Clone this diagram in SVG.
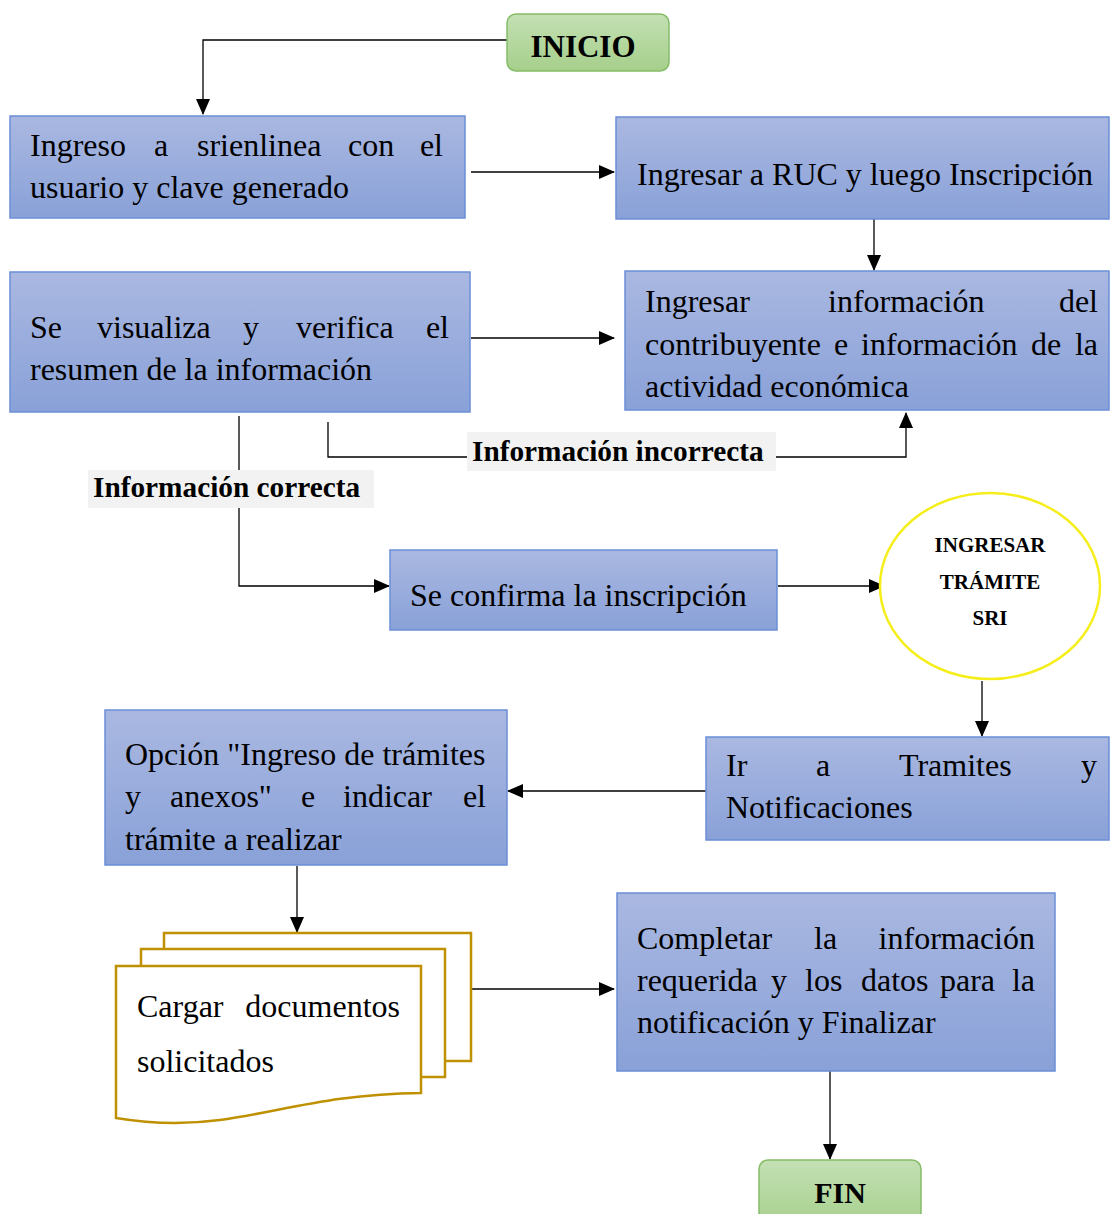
<svg xmlns="http://www.w3.org/2000/svg" width="1110" height="1214" viewBox="0 0 1110 1214">
<defs>
<linearGradient id="gb" x1="0" y1="0" x2="0" y2="1"><stop offset="0" stop-color="#aab8e1"/><stop offset="1" stop-color="#89a1d8"/></linearGradient>
<linearGradient id="gg" x1="0" y1="0" x2="0" y2="1"><stop offset="0" stop-color="#c3e0b3"/><stop offset="1" stop-color="#a6cf8b"/></linearGradient>
<marker id="ah" markerUnits="userSpaceOnUse" markerWidth="16" markerHeight="14" refX="15" refY="7" orient="auto"><path d="M0,0 L16,7 L0,14 Z" fill="#000"/></marker>
<style>
.box{fill:url(#gb);stroke:#6b8fd6;stroke-width:1.5}
.term{fill:url(#gg);stroke:#86bc68;stroke-width:1.5}
.t{font-family:"Liberation Serif","Times New Roman",serif;font-size:32px;fill:#000}
.b{font-family:"Liberation Serif","Times New Roman",serif;font-weight:bold;fill:#000}
.c{fill:none;stroke:#000;stroke-width:1.3}
.doc{fill:#fff;stroke:#bf9000;stroke-width:2.5}
</style>
</defs>
<g id="connectors">
<path class="c" d="M507,40 H203 V114" marker-end="url(#ah)"/>
<path class="c" d="M471,172 H614" marker-end="url(#ah)"/>
<path class="c" d="M874,219 V270" marker-end="url(#ah)"/>
<path class="c" d="M471,338 H614" marker-end="url(#ah)"/>
<path class="c" d="M328,422 V457 H906 V413" marker-end="url(#ah)"/>
<path class="c" d="M239,416 V586 H389" marker-end="url(#ah)"/>
<path class="c" d="M778,586 H884" marker-end="url(#ah)"/>
<path class="c" d="M982,681 V736" marker-end="url(#ah)"/>
<path class="c" d="M706,791 H508" marker-end="url(#ah)"/>
<path class="c" d="M297,866 V932" marker-end="url(#ah)"/>
<path class="c" d="M471,989 H614" marker-end="url(#ah)"/>
<path class="c" d="M830,1071 V1159" marker-end="url(#ah)"/>
<rect x="467" y="432" width="309" height="39" fill="#f2f2f2"/>
<text class="b" font-size="29.3" x="472" y="461">Información incorrecta</text>
<rect x="88" y="470" width="286" height="38" fill="#f2f2f2"/>
<text class="b" font-size="29.3" x="93" y="497">Información correcta</text>
</g>
<g id="inicio">
<rect class="term" x="507" y="14" width="162" height="57" rx="9"/>
<text class="b" font-size="31" x="583" y="57" text-anchor="middle">INICIO</text>
</g>
<g id="ingreso">
<rect class="box" x="10" y="116" width="455" height="102"/>
<text class="t" y="156"><tspan x="30">Ingreso</tspan><tspan x="154">a</tspan><tspan x="197">srienlinea</tspan><tspan x="348">con</tspan><tspan x="443" text-anchor="end">el</tspan></text>
<text class="t" x="30" y="198">usuario y clave generado</text>
</g>
<g id="ruc">
<rect class="box" x="616" y="117" width="493" height="102"/>
<text class="t" x="637" y="185">Ingresar a RUC y luego Inscripción</text>
</g>
<g id="info">
<rect class="box" x="625" y="271" width="484" height="139"/>
<text class="t" y="312"><tspan x="645">Ingresar</tspan><tspan x="828">información</tspan><tspan x="1098" text-anchor="end">del</tspan></text>
<text class="t" y="355"><tspan x="645">contribuyente</tspan><tspan x="834">e</tspan><tspan x="861">información</tspan><tspan x="1031">de</tspan><tspan x="1098" text-anchor="end">la</tspan></text>
<text class="t" x="645" y="397">actividad económica</text>
</g>
<g id="verifica">
<rect class="box" x="10" y="272" width="460" height="140"/>
<text class="t" y="338"><tspan x="30">Se</tspan><tspan x="97">visualiza</tspan><tspan x="243">y</tspan><tspan x="296">verifica</tspan><tspan x="449" text-anchor="end">el</tspan></text>
<text class="t" x="30" y="380">resumen de la información</text>
</g>
<g id="confirma">
<rect class="box" x="390" y="550" width="387" height="80"/>
<text class="t" x="410" y="606">Se confirma la inscripción</text>
</g>
<g id="tramite">
<ellipse cx="990" cy="586" rx="110" ry="93" fill="#fff" stroke="#f5ee1a" stroke-width="2.5"/>
<text class="b" font-size="21" text-anchor="middle"><tspan x="990" y="552">INGRESAR</tspan><tspan x="990" y="589">TRÁMITE</tspan><tspan x="990" y="625">SRI</tspan></text>
</g>
<g id="notificaciones">
<rect class="box" x="706" y="737" width="403" height="103"/>
<text class="t" y="776"><tspan x="726">Ir</tspan><tspan x="816">a</tspan><tspan x="899">Tramites</tspan><tspan x="1097" text-anchor="end">y</tspan></text>
<text class="t" x="726" y="818">Notificaciones</text>
</g>
<g id="opcion">
<rect class="box" x="105" y="710" width="402" height="155"/>
<text class="t" x="125" y="765">Opción "Ingreso de trámites</text>
<text class="t" y="807"><tspan x="125">y</tspan><tspan x="170">anexos"</tspan><tspan x="301">e</tspan><tspan x="343">indicar</tspan><tspan x="486" text-anchor="end">el</tspan></text>
<text class="t" x="125" y="850">trámite a realizar</text>
</g>
<g id="documentos">
<rect class="doc" x="164" y="933" width="307" height="128"/>
<rect class="doc" x="141" y="949" width="304" height="128"/>
<path class="doc" d="M116,966 H421 V1093 C330,1094 280,1112 220,1120 C175,1126 140,1122 116,1118 Z"/>
<text class="t" y="1017"><tspan x="137">Cargar</tspan><tspan x="400" text-anchor="end">documentos</tspan></text>
<text class="t" x="137" y="1072">solicitados</text>
</g>
<g id="completar">
<rect class="box" x="617" y="893" width="438" height="178"/>
<text class="t" y="949"><tspan x="637">Completar</tspan><tspan x="814">la</tspan><tspan x="1035" text-anchor="end">información</tspan></text>
<text class="t" y="991"><tspan x="637">requerida</tspan><tspan x="771">y</tspan><tspan x="805">los</tspan><tspan x="861">datos</tspan><tspan x="940">para</tspan><tspan x="1035" text-anchor="end">la</tspan></text>
<text class="t" x="637" y="1033">notificación y Finalizar</text>
</g>
<g id="fin">
<rect class="term" x="759" y="1160" width="162" height="70" rx="9"/>
<text class="b" font-size="30" x="840" y="1203" text-anchor="middle">FIN</text>
</g>
</svg>
